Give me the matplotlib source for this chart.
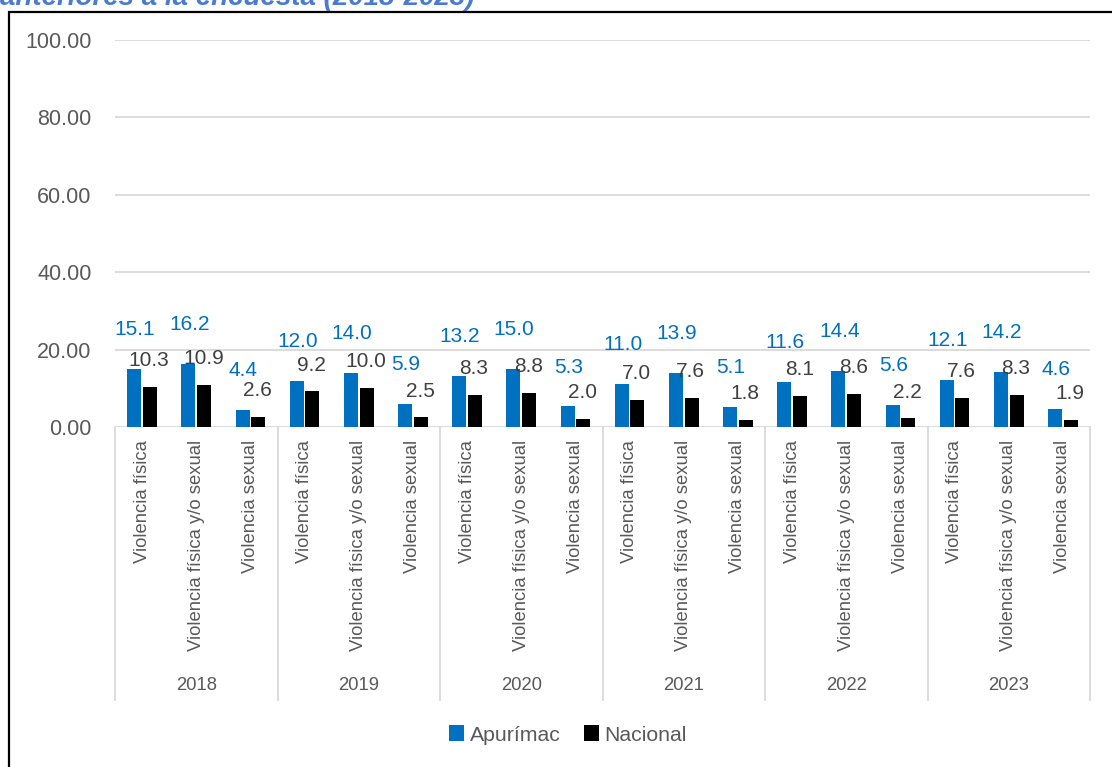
import numpy as np
import matplotlib.pyplot as plt
import matplotlib.transforms as mtransforms
from matplotlib.patches import Rectangle, Patch

plt.rcParams['font.family'] = ['Liberation Sans', 'DejaVu Sans']

years = ['2018', '2019', '2020', '2021', '2022', '2023']
tipos = ['Violencia física', 'Violencia física y/o sexual', 'Violencia sexual']
apurimac = [15.1, 16.2, 4.4, 12.0, 14.0, 5.9, 13.2, 15.0, 5.3,
            11.0, 13.9, 5.1, 11.6, 14.4, 5.6, 12.1, 14.2, 4.6]
nacional = [10.3, 10.9, 2.6, 9.2, 10.0, 2.5, 8.3, 8.8, 2.0,
            7.0, 7.6, 1.8, 8.1, 8.6, 2.2, 7.6, 8.3, 1.9]

blue = '#0070C0'
grey_txt = '#595959'
grid_c = '#D9D9D9'

W, H = 1112, 767
fig = plt.figure(figsize=(W / 100, H / 100), dpi=100)
ax = fig.add_axes([115 / W, 1 - 427 / H, (1090 - 115) / W, (427 - 40) / H])

n = len(apurimac)
x = np.arange(n)
bw = 0.26
ax.bar(x - bw / 2 - 0.015, apurimac, bw, color=blue, zorder=3)
ax.bar(x + bw / 2 + 0.015, nacional, bw, color='black', zorder=3)

# data labels
for i in range(n):
    ax.text(x[i] - bw / 2, apurimac[i] + 10.2, f'{apurimac[i]:.1f}', color=blue,
            fontsize=15, ha='center', va='center', zorder=4)
    ax.text(x[i] + bw / 2, nacional[i] + 6.8, f'{nacional[i]:.1f}', color='#404040',
            fontsize=15, ha='center', va='center', zorder=4)

ax.set_xlim(-0.5, n - 0.5)
ax.set_ylim(0, 100)
ax.set_yticks(np.arange(0, 101, 20))
ax.set_yticklabels([f'{v:.2f}' for v in np.arange(0, 101, 20)])
ax.tick_params(axis='y', length=0, labelsize=15.5, labelcolor=grey_txt, pad=17)
ax.tick_params(axis='x', length=0, labelbottom=False)
ax.grid(axis='y', color=grid_c, linewidth=1.3, zorder=0)
for s in ax.spines.values():
    s.set_visible(False)

# multi-level category axis
trans = mtransforms.blended_transform_factory(ax.transData, ax.transAxes)
ah = 427 - 40
for i in range(n):
    ax.text(x[i], -13 / ah, tipos[i % 3], rotation=90, ha='center', va='top',
            fontsize=13.3, color=grey_txt, transform=trans)
for g, yr in enumerate(years):
    ax.text(3 * g + 1, -(686 - 427) / ah, yr, ha='center', va='center',
            fontsize=13.3, color=grey_txt, transform=trans)
for b in range(len(years) + 1):
    ax.plot([3 * b - 0.5, 3 * b - 0.5], [0, -(700 - 427) / ah], color=grid_c,
            linewidth=1.3, transform=trans, clip_on=False)

handles = [Patch(facecolor=blue, label='Apurímac'), Patch(facecolor='black', label='Nacional')]
fig.legend(handles=handles, loc='center', bbox_to_anchor=(568 / W, 1 - 735 / H), ncol=2,
           frameon=False, fontsize=15.3, handlelength=0.72, handleheight=0.72,
           handletextpad=0.25, columnspacing=1.1, labelcolor=grey_txt)

# chart border and cut-off title
fig.add_artist(Rectangle((8.5 / W, -0.05), 1.1, 1 - 12 / H + 0.05, transform=fig.transFigure,
                         fill=False, edgecolor='black', linewidth=1.6))
fig.text(0.0, 1 - 5 / H, 'anteriores a la encuesta (2018-2023)', color='#4A7BD0',
         fontsize=20, fontweight='bold', fontstyle='italic', ha='left', va='baseline')

fig.savefig('out.png', dpi=100)
